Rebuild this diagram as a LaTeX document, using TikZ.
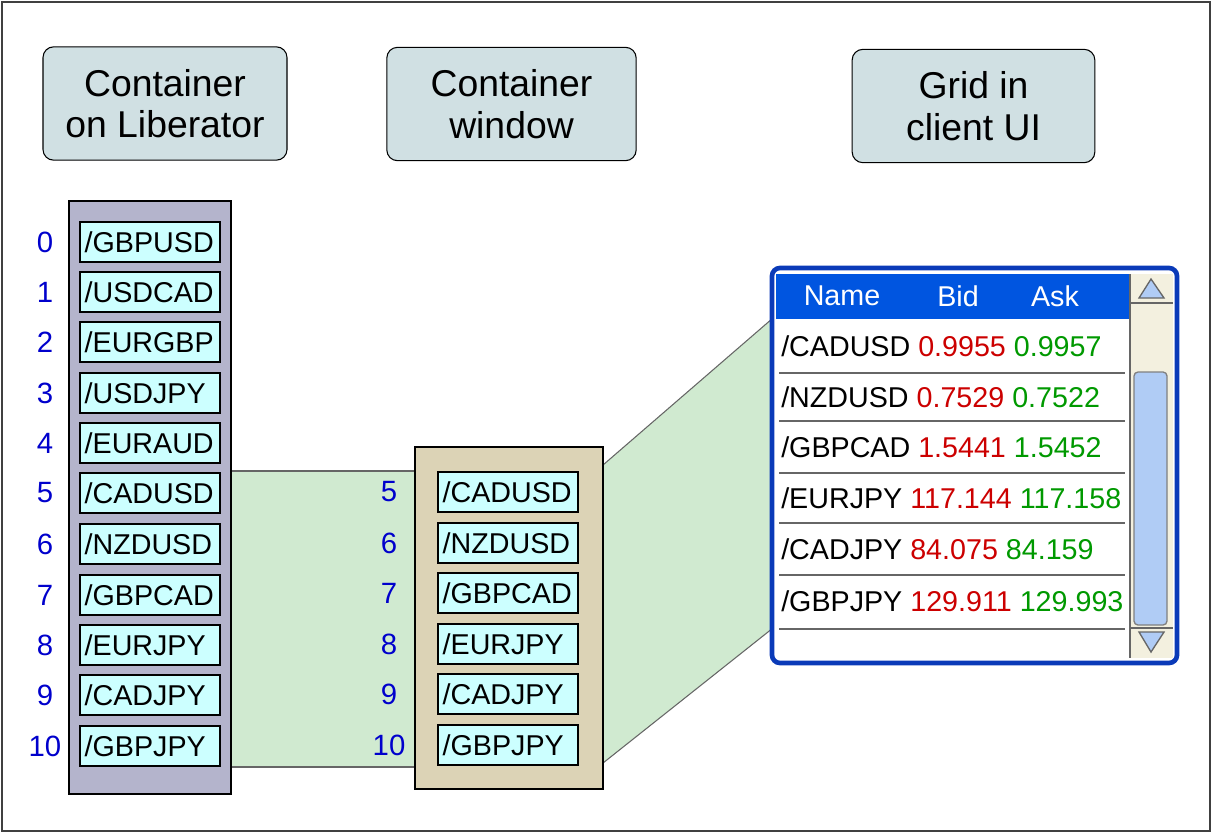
\documentclass[tikz,border=0pt]{standalone}
\usepackage{fontspec}
\setmainfont{Liberation Sans}
\usepackage{tikz}
\usetikzlibrary{positioning}
\definecolor{colortitle}{HTML}{D0E0E3}
\definecolor{colorlib}{HTML}{B4B4CC}
\definecolor{colorwin}{HTML}{DCD3B6}
\definecolor{colorcell}{HTML}{CCFFFF}
\definecolor{colorband}{HTML}{D0EAD0}
\definecolor{colorgrid}{HTML}{0A3AB8}
\definecolor{colorhead}{HTML}{0055E0}
\definecolor{colorscroll}{HTML}{F3F0DF}
\definecolor{colorthumb}{HTML}{B0CCF5}
\definecolor{colorbid}{HTML}{CC0000}
\definecolor{colorask}{HTML}{009900}
\definecolor{colorindex}{HTML}{0000CC}
\tikzset{
  title/.style={draw=black, fill=colortitle, rounded corners=8pt, thick,
    font=\fontsize{28}{31}\selectfont, align=center},
  cell/.style={draw=black, fill=colorcell, thick, text width=98pt,
    align=left, inner xsep=3.5pt, minimum height=30pt, inner ysep=0pt,
    font=\fontsize{21.5}{24}\selectfont},
  index/.style={colorindex, font=\fontsize{22}{24}\selectfont, inner sep=0pt},
  row/.style={anchor=west, inner sep=0pt, font=\fontsize{21.5}{24}\selectfont},
  sep/.style={draw=black!60, line width=1.2pt}
}
\begin{document}
\begin{tikzpicture}[x=0.75pt, y=-0.75pt]
\useasboundingbox (0,0) rectangle (1212,833);
\draw[black!75, line width=2.2pt] (2,2) rectangle (1210,831);

% titles
\node[title, minimum width=183pt, minimum height=85pt] (tlib) at (165,103.5)
{Container\\on Liberator};
\node[title, minimum width=187pt, minimum height=85pt] (twin) at (511.5,104)
{Container\\window};
\node[title, minimum width=182pt, minimum height=85pt] (tgrid) at (973.5,106)
{Grid in\\client UI};

% bands
\draw[fill=colorband, draw=black!60, thick] (231,471) -- (415,471)
  -- (415,767) -- (231,767);
\draw[fill=colorband, draw=black!60, thick] (603,465) -- (773,318)
  -- (773,628) -- (603,763);

% container on liberator
\draw[fill=colorlib, thick] (69,201) rectangle (231,794);
\foreach \name/\y [count=\i from 0] in {GBPUSD/242, USDCAD/292, EURGBP/342,
  USDJPY/393, EURAUD/443, CADUSD/493, NZDUSD/544, GBPCAD/595,
  EURJPY/645, CADJPY/695, GBPJPY/746}
{
  \node[cell] (l\i) at (150,\y) {/\name};
  \node[index] (li\i) at (45,\y) {\i};
}

% container window
\draw[fill=colorwin, thick] (415,447) rectangle (603,789);
\foreach \name/\y [count=\i from 5] in {CADUSD/492, NZDUSD/543, GBPCAD/593,
  EURJPY/644, CADJPY/694, GBPJPY/745}
{
  \node[cell] (w\i) at (508,\y) {/\name};
  \node[index] (wi\i) at (389,\y) {\i};
}

% grid
\fill[white] (775,271) rectangle (1175,660);
\fill[colorhead] (776,274) rectangle (1130,319);
\node[white, font=\fontsize{21.5}{24}\selectfont] (hname) at (842,296) {Name};
\node[white, font=\fontsize{21.5}{24}\selectfont] (hbid) at (958,296) {Bid};
\node[white, font=\fontsize{21.5}{24}\selectfont] (hask) at (1055,296) {Ask};
\fill[colorscroll] (1130,274) rectangle (1173,658);
\draw[black!60, line width=1pt] (1130,274) -- (1130,658);
\draw[black!60, line width=1pt] (1130,303) -- (1173,303);
\draw[black!60, line width=1pt] (1130,628) -- (1173,628);
\draw[fill=colorthumb, draw=black!50, line width=1pt, rounded corners=3pt]
  (1134,372) rectangle (1167,625);
\draw[fill=colorthumb, draw=black!60, line width=1pt]
  (1139,298) -- (1151,279) -- (1164,298) -- cycle;
\draw[fill=colorthumb, draw=black!60, line width=1pt]
  (1139,632) -- (1151,652) -- (1164,632) -- cycle;
\foreach \y in {373,421,473,523,575,629}
  \draw[sep] (779,\y) -- (1125,\y);
\foreach \name/\bid/\ask/\y [count=\i] in {CADUSD/0.9955/0.9957/346,
  NZDUSD/0.7529/0.7522/397, GBPCAD/1.5441/1.5452/447,
  EURJPY/117.144/117.158/498, CADJPY/84.075/84.159/549,
  GBPJPY/129.911/129.993/601}
{
  \node[row] (g\i) at (781,\y) {/\name\ \textcolor{colorbid}{\bid}
    \textcolor{colorask}{\ask}};
}
\draw[colorgrid, line width=3.5pt, rounded corners=6pt]
  (772,268) rectangle (1177,663);
\end{tikzpicture}
\end{document}
